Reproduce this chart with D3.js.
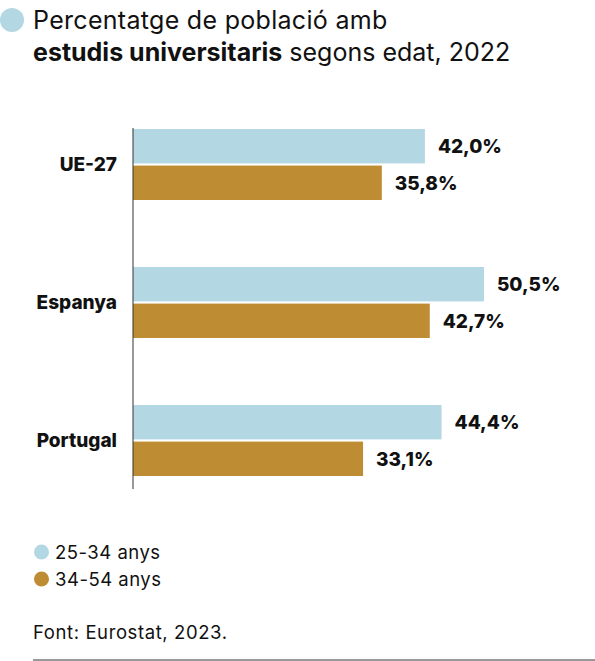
<!DOCTYPE html>
<html><head><meta charset="utf-8">
<script src="https://cdn.jsdelivr.net/npm/d3@7"></script>
<style>
html,body{margin:0;padding:0;background:#fff;}
svg{display:block;font-family:Inter,"Noto Sans",sans-serif;}
</style></head>
<body><svg id="c" width="595" height="661"></svg>
<script>
const categories = ["UE-27", "Espanya", "Portugal"];
const seriesNames = ["25-34 anys", "34-54 anys"];
const young = [42.0, 50.5, 44.4];
const older = [35.8, 42.7, 33.1];
const colors = ["#b3d8e3", "#be8c33"];

const svg = d3.select("#c");
const fmt = v => v.toFixed(1).replace(".", ",") + "%";

// title
svg.append("circle").attr("cx", 12).attr("cy", 20).attr("r", 12).attr("fill", colors[0]);
svg.append("text").attr("x", 33).attr("y", 29).attr("font-size", 25).attr("letter-spacing", 0.3).attr("fill", "#111")
  .text("Percentatge de població amb");
const t2 = svg.append("text").attr("x", 33).attr("y", 61).attr("font-size", 25).attr("fill", "#111");
t2.append("tspan").attr("font-weight", 700).text("estudis universitaris");
t2.append("tspan").text(" segons edat, 2022");

const x0 = 133;
const x = d3.scaleLinear().domain([0, 60]).range([x0, x0 + 60 * 6.95]);
const y = d3.scaleBand().domain(categories).range([129, 543]).paddingInner(0).paddingOuter(0);
const sub = d3.scaleBand().domain([0, 1]).range([0, 71]).paddingInner(0.06);

const data = categories.map((c, i) => ({ c, vals: [young[i], older[i]] }));

const g = svg.append("g");
const grp = g.selectAll("g.grp").data(data).join("g")
  .attr("transform", d => `translate(0,${y(d.c)})`);

grp.selectAll("rect").data(d => d.vals).join("rect")
  .attr("x", x(0)).attr("y", (d, i) => sub(i))
  .attr("width", d => x(d) - x(0)).attr("height", sub.bandwidth())
  .attr("fill", (d, i) => colors[i]);

grp.selectAll("text.val").data(d => d.vals).join("text").attr("class", "val")
  .attr("x", d => x(d) + 13).attr("y", (d, i) => sub(i) + sub.bandwidth() / 2 + 7)
  .attr("font-size", 19).attr("font-weight", 800).attr("fill", "#111")
  .text(d => fmt(d));

grp.append("text").attr("x", 117).attr("y", 35 + 7).attr("text-anchor", "end")
  .attr("font-size", 19).attr("font-weight", 800).attr("fill", "#111")
  .text(d => d.c);

// axis line
svg.append("line").attr("x1", x0).attr("x2", x0).attr("y1", 128).attr("y2", 489)
  .attr("stroke", "#333").attr("stroke-width", 1);

// legend
const leg = svg.selectAll("g.leg").data(seriesNames).join("g").attr("class", "leg")
  .attr("transform", (d, i) => `translate(0,${552 + i * 27})`);
leg.append("circle").attr("cx", 41.5).attr("cy", 0).attr("r", 7.5).attr("fill", (d, i) => colors[i]);
leg.append("text").attr("x", 55).attr("y", 6.5).attr("font-size", 18.5).attr("letter-spacing", 0.5).attr("fill", "#111").text(d => d);

svg.append("text").attr("x", 33).attr("y", 639).attr("font-size", 18.5).attr("letter-spacing", 0.6).attr("fill", "#111")
  .text("Font: Eurostat, 2023.");
svg.append("line").attr("x1", 33).attr("x2", 595).attr("y1", 660).attr("y2", 660)
  .attr("stroke", "#333").attr("stroke-width", 1);
</script></body></html>
